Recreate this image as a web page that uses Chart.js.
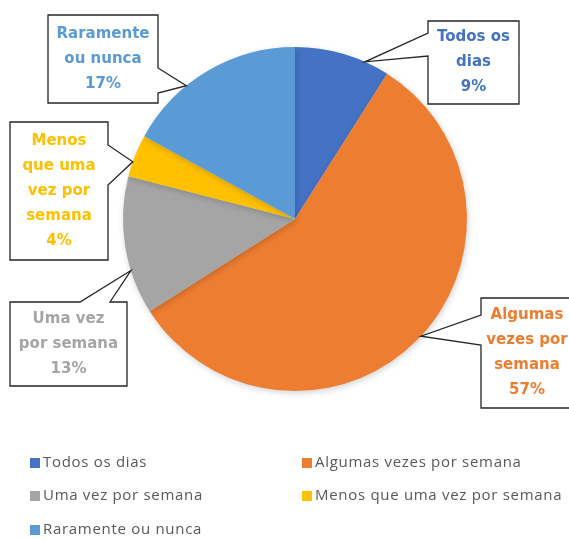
<!DOCTYPE html>
<html lang="pt">
  <head>
    <meta charset="UTF-8" />
    <title>Frequência</title>
    <style>
      html, body { margin: 0; padding: 0; background: #fff; }
      canvas { display: block; }
    </style>
  </head>
  <body>
    <canvas id="chart" width="569" height="539"></canvas>
    <script src="https://cdn.jsdelivr.net/npm/chart.js@4.4.1/dist/chart.umd.min.js"></script>
    <script>
      const categories = [
        "Todos os dias",
        "Algumas vezes por semana",
        "Uma vez por semana",
        "Menos que uma vez por semana",
        "Raramente ou nunca",
      ];
      const values = [9, 57, 13, 4, 17];
      const calloutLines = [
        ["Todos os", "dias"],
        ["Algumas", "vezes por", "semana"],
        ["Uma vez", "por semana"],
        ["Menos", "que uma", "vez por", "semana"],
        ["Raramente", "ou nunca"],
      ];
      const colors = ["#4472C4", "#ED7D31", "#A5A5A5", "#FFC000", "#5B9BD5"];

      // callout boxes: box rect, side of the pointer, pointer base, where on the slice the tip sits
      const boxes = [
        { x: 428, y: 21, w: 91, h: 83, side: "left", b1: 33, b2: 56, frac: 0.74 },
        { x: 481, y: 298, w: 100, h: 110, side: "left", b1: 315, b2: 345, frac: 0.49 },
        { x: 10, y: 302, w: 117, h: 84, side: "top", b1: 80, b2: 110, frac: 0.32 },
        { x: 10, y: 122, w: 98, h: 138, side: "right", b1: 145, b2: 185, frac: 0.35 },
        { x: 48, y: 15, w: 110, h: 88, side: "right", b1: 68, b2: 93, frac: 0.36 },
      ];

      const total = values.reduce((a, b) => a + b, 0);

      const callouts = {
        id: "callouts",
        afterDatasetsDraw(chart) {
          const ctx = chart.ctx;
          const arcs = chart.getDatasetMeta(0).data;
          ctx.save();
          arcs.forEach((arc, i) => {
            const b = boxes[i];
            const a = arc.startAngle + (arc.endAngle - arc.startAngle) * b.frac;
            const tx = arc.x + Math.cos(a) * arc.outerRadius;
            const ty = arc.y + Math.sin(a) * arc.outerRadius;
            const L = b.x, T = b.y, R = b.x + b.w, B = b.y + b.h;
            ctx.beginPath();
            ctx.moveTo(L, T);
            if (b.side === "top") {
              ctx.lineTo(b.b1, T);
              ctx.lineTo(tx, ty);
              ctx.lineTo(b.b2, T);
            }
            ctx.lineTo(R, T);
            if (b.side === "right") {
              ctx.lineTo(R, b.b1);
              ctx.lineTo(tx, ty);
              ctx.lineTo(R, b.b2);
            }
            ctx.lineTo(R, B);
            ctx.lineTo(L, B);
            if (b.side === "left") {
              ctx.lineTo(L, b.b2);
              ctx.lineTo(tx, ty);
              ctx.lineTo(L, b.b1);
            }
            ctx.closePath();
            ctx.fillStyle = "#fff";
            ctx.fill();
            ctx.lineWidth = 1.3;
            ctx.strokeStyle = "#262626";
            ctx.stroke();

            const lines = calloutLines[i].concat([Math.round((values[i] / total) * 100) + "%"]);
            ctx.fillStyle = colors[i];
            ctx.font = "bold 15px 'DejaVu Sans'";
            ctx.textAlign = "center";
            ctx.textBaseline = "middle";
            const cx = i === 1 ? 527 : (L + R) / 2;
            const step = 25;
            const y0 = (T + B) / 2 - ((lines.length - 1) * step) / 2;
            lines.forEach((t, k) => ctx.fillText(t, cx, y0 + k * step));
          });
          ctx.restore();
        },
      };

      const legendBox = {
        id: "legendBox",
        afterDraw(chart) {
          const ctx = chart.ctx;
          const cols = [30, 302];
          const rows = [463, 496, 530];
          ctx.save();
          ctx.font = "15px 'Open Sans'";
          ctx.letterSpacing = "0.7px";
          ctx.textAlign = "left";
          ctx.textBaseline = "middle";
          categories.forEach((c, i) => {
            const x = cols[i % 2];
            const y = rows[Math.floor(i / 2)];
            ctx.fillStyle = colors[i];
            ctx.fillRect(x, y - 5, 10, 10);
            ctx.fillStyle = "#595959";
            ctx.fillText(c, x + 13, y);
          });
          ctx.restore();
        },
      };

      const shadow = {
        id: "shadow",
        beforeDatasetsDraw(chart) {
          const ctx = chart.ctx;
          ctx.save();
          ctx.shadowColor = "rgba(0,0,0,0.18)";
          ctx.shadowBlur = 6;
          ctx.shadowOffsetX = 1;
          ctx.shadowOffsetY = 2;
        },
        afterDatasetsDraw(chart) {
          chart.ctx.restore();
        },
      };

      new Chart(document.getElementById("chart"), {
        type: "pie",
        data: {
          labels: categories,
          datasets: [
            {
              data: values,
              backgroundColor: colors,
              borderWidth: 0,
            },
          ],
        },
        options: {
          responsive: false,
          animation: false,
          layout: { padding: { top: 47, bottom: 148, left: 123, right: 102 } },
          plugins: {
            legend: { display: false },
            tooltip: { enabled: false },
          },
        },
        plugins: [shadow, callouts, legendBox],
      });
    </script>
  </body>
</html>
